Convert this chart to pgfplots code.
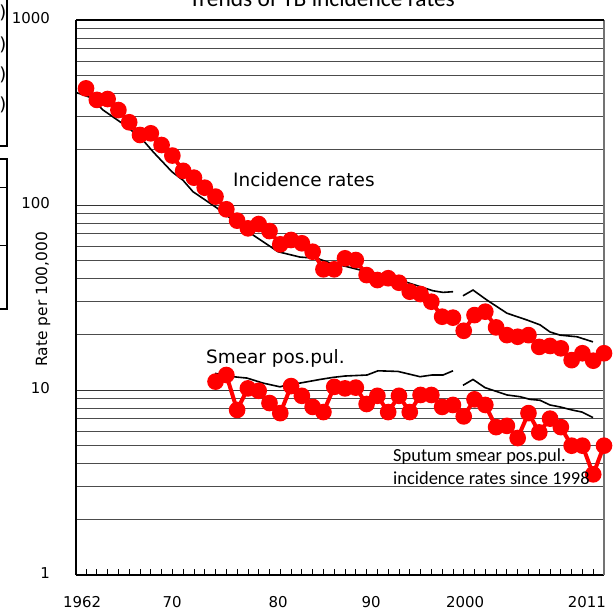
\documentclass[border=0pt]{standalone}
\usepackage{fontspec}
\setmainfont{DejaVu Sans}
\newfontfamily\calibri{Carlito}
\usepackage{pgfplots}
\pgfplotsset{compat=1.18}

% x is the position of the year in the series (0 = 1962)
\pgfplotstableread{
x    v
0    427
1    370
2    374
3    326
4    280
5    239
6    244
7    211
8    185
9    153
10   140.5
11   124
12   111
13   94.8
14   82.3
15   74.8
16   78.9
17   72.3
18   61.3
19   64.7
20   62.1
21   55.9
22   44.9
23   44.9
24   51.5
25   50.4
26   41.8
27   39.3
28   40.2
29   38.0
30   34.0
31   33.0
32   30.0
33   24.9
34   24.6
}\incA
\pgfplotstableread{
x    v
35   20.9
36   25.4
37   26.5
38   21.8
39   19.8
40   19.4
41   19.8
42   17.1
43   17.3
44   16.8
45   14.5
46   15.8
47   14.4
48   15.8
}\incB
\pgfplotstableread{
x    v
12   11.1
13   12.05
14   7.8
15   10.2
16   9.9
17   8.5
18   7.5
19   10.5
20   9.3
21   8.1
22   7.6
23   10.4
24   10.2
25   10.3
26   8.4
27   9.3
28   7.6
29   9.3
30   7.6
31   9.4
32   9.4
33   8.1
34   8.3
}\smA
\pgfplotstableread{
x    v
35   7.2
36   8.9
37   8.3
38   6.3
39   6.4
40   5.5
41   7.5
42   5.9
43   7.0
44   6.3
45   5.0
46   5.0
47   3.5
48   5.0
}\smB
% black reference lines
\pgfplotstableread{
x      v
-0.93  406
0.37   382
1.58   326
3.80   265
5.28   224
6.21   194
7.97   151
8.99   136
9.91   118
12.14  96.3
13.34  85.1
15.47  68.9
17.79  55.9
19.83  52.3
21.41  51.5
22.61  48.6
24.18  46.4
26.04  43.6
28.17  41.0
30.02  37.7
32.15  34.4
33.08  33.7
34.01  34.0
}\refA
\pgfplotstableread{
x      v
34.93  32.3
35.86  34.7
37.16  30.6
39.01  26.0
40.86  23.9
42.07  22.5
42.99  20.6
43.92  19.8
45.50  19.4
46.98  18.2
}\refB
\pgfplotstableread{
x      v
11.95  12.3
13.62  11.8
14.92  11.6
16.40  10.9
17.98  10.4
19.18  10.9
19.83  10.9
21.68  11.4
22.89  11.7
24.00  11.9
26.04  12.05
27.06  12.7
28.91  12.6
30.95  11.8
32.06  12.05
33.08  12.05
34.01  12.7
}\refC
\pgfplotstableread{
x      v
34.93  10.6
35.86  11.4
36.97  10.3
39.01  9.4
40.22  9.2
41.14  8.9
42.07  8.8
42.99  8.3
43.92  8.1
45.03  7.8
45.96  7.6
46.98  7.1
}\refD

\begin{document}
\begin{tikzpicture}
\useasboundingbox (0,0) rectangle (616bp,612bp);
\clip (0,0) rectangle (616bp,612bp);

% boxes cut off at the left edge
\draw[line width=2.5bp] (7bp,616bp) -- (7bp,466bp) -- (-4bp,466bp);
\draw[line width=2.5bp] (-4bp,453bp) -- (7bp,453bp) -- (7bp,303bp) -- (-4bp,303bp);
\draw[line width=0.8bp] (-4bp,425bp) -- (7bp,425bp) (-4bp,367bp) -- (7bp,367bp);
\foreach \yy in {593,561.5,531.5,501.5}
  \node[anchor=base east, inner sep=0pt, font=\fontsize{18}{20}\selectfont] at (6.5bp,\yy bp) {)};

\begin{axis}[
    at={(76bp,37bp)}, anchor=south west,
    width=528bp, height=555bp, scale only axis,
    ymode=log, ymin=1, ymax=1000,
    xmin=-0.93, xmax=48,
    clip=false,
    axis lines=left,
    axis line style={-, black, line width=1.3bp},
    tick align=inside,
    ytick={1,10,100,1000},
    yticklabels={1,10,100,1000},
    ytick style={draw=none},
    yticklabel style={anchor=east, inner sep=0pt, xshift=-26bp, yshift=2bp},
    xtick={-0.37,7.97,17.79,26.41,35.12,46.42},
    xticklabels={1962,70,80,90,2000,2011},
    major tick length=0pt,
    minor xtick={0,1,...,48},
    minor tick length=5.7bp,
    xtick style={black, line width=0.8bp},
    xticklabel style={anchor=base, inner sep=0pt, yshift=-32.5bp},
    tick label style={font=\fontsize{15}{18}\selectfont},
    ymajorgrids, yminorgrids,
    major grid style={black!80, line width=0.8bp},
    minor grid style={black!70, line width=0.8bp},
    ylabel={Rate per 100,000},
    ylabel style={at={(axis description cs:-0.0625,0.497)}, anchor=center,
        inner sep=0pt, font=\fontsize{15.5}{18}\selectfont},
]
\addplot[black, line width=1.6bp] table[x=x, y=v] {\refA};
\addplot[black, line width=1.6bp] table[x=x, y=v] {\refB};
\addplot[black, line width=1.6bp] table[x=x, y=v] {\refC};
\addplot[black, line width=1.6bp] table[x=x, y=v] {\refD};
\addplot[red, line width=4bp, mark=*, mark size=6.3bp] table[x=x, y=v] {\incA};
\addplot[red, line width=4bp, mark=*, mark size=6.3bp] table[x=x, y=v] {\incB};
\addplot[red, line width=4bp, mark=*, mark size=6.3bp] table[x=x, y=v] {\smA};
\addplot[red, line width=4bp, mark=*, mark size=6.3bp] table[x=x, y=v] {\smB};
\draw[black!55, line width=1.5bp] (rel axis cs:1,0) -- (rel axis cs:1,1);
\draw[black, line width=1.3bp] (rel axis cs:0,1) -- (rel axis cs:1,1);
\end{axis}

\node[anchor=base, inner sep=0pt, font=\calibri\fontsize{23.5}{28}\selectfont]
  at (322bp,605.3bp) {Trends of TB incidence rates};
\node[anchor=base west, inner sep=0pt, font=\fontsize{18.5}{22}\selectfont]
  at (233bp,425.3bp) {Incidence rates};
\node[anchor=base west, inner sep=0pt, font=\fontsize{18.5}{22}\selectfont]
  at (206bp,248.7bp) {Smear pos.pul.};
\node[anchor=base west, inner sep=0pt, font=\calibri\fontsize{18.5}{22}\selectfont]
  at (393bp,150.3bp) {Sputum smear pos.pul.};
\node[anchor=base west, inner sep=0pt, font=\calibri\fontsize{18.5}{22}\selectfont]
  at (393bp,127bp) {incidence rates since 1998};
\end{tikzpicture}
\end{document}
